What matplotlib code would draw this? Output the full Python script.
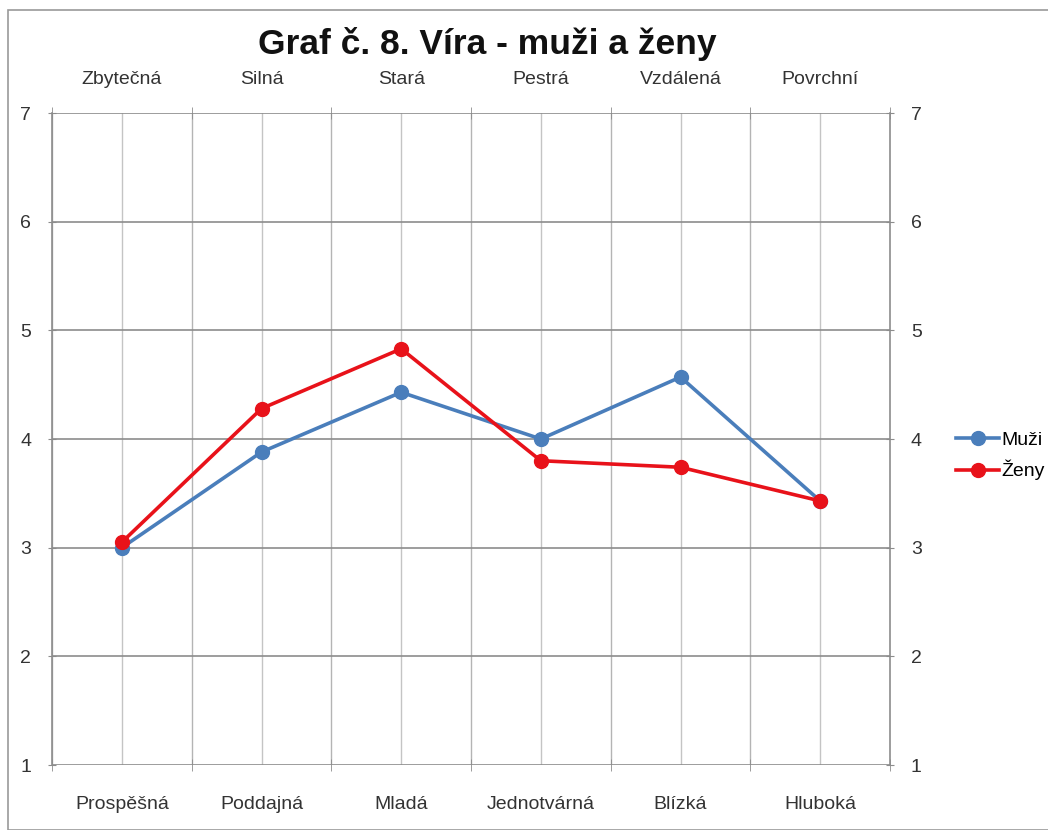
import matplotlib
matplotlib.use("Agg")
import matplotlib.pyplot as plt
from matplotlib.patches import Rectangle

plt.rcParams['font.family'] = ["Liberation Sans", 'DejaVu Sans']

bottom_labels = ["Prospěšná", "Poddajná", "Mladá", "Jednotvárná", "Blízká", "Hluboká"]
top_labels = ["Zbytečná", "Silná", "Stará", "Pestrá", "Vzdálená", "Povrchní"]
muzi = [3.00, 3.88, 4.43, 4.00, 4.57, 3.43]
zeny = [3.05, 4.28, 4.83, 3.80, 3.74, 3.43]
yticks = [1, 2, 3, 4, 5, 6, 7]
title = "Graf č. 8. Víra - muži a ženy"

fig = plt.figure(figsize=(10.48, 8.3), dpi=100)
fig.patches.append(Rectangle((8/1048, 0), 1.2, 1 - 10/830, transform=fig.transFigure,
                             fill=False, edgecolor="#9a9a9a", linewidth=1.2))

ax = fig.add_axes([52/1048, 1 - 765/830, (890-52)/1048, (765-113)/830])
n = len(bottom_labels)
x = list(range(n))
ax.set_xlim(-0.5, n - 0.5)
ax.set_ylim(1, 7)

for i in range(n):
    ax.axvline(i, color="#c4c4c4", lw=1, zorder=0)
    ax.axvline(i - 0.5, color="#b4b4b4", lw=1, zorder=0)
for yv in yticks:
    ax.axhline(yv, color="#8c8c8c", lw=1.2, zorder=0)

ax.plot(x, muzi, color="#4a7ebb", lw=2.6, marker="o", ms=10, label="Muži", zorder=3)
ax.plot(x, zeny, color="#e8121a", lw=2.6, marker="o", ms=10, label="Ženy", zorder=4)

for s in ["top", "bottom"]:
    ax.spines[s].set_visible(False)
for s in ["left", "right"]:
    ax.spines[s].set_color("#8c8c8c")
    ax.spines[s].set_linewidth(1.2)

ax.set_xticks(x)
ax.set_xticklabels(bottom_labels, fontsize=14, color="#333333")
ax.tick_params(axis="x", length=0, pad=22)
ax.set_xticks([i - 0.5 for i in range(n + 1)], minor=True)
ax.tick_params(axis="x", which="minor", length=8, color="#8c8c8c", direction="inout", bottom=True, top=True)

ax.set_yticks(yticks)
ax.set_yticklabels([str(v) for v in yticks], fontsize=14, color="#333333")
ax.tick_params(axis="y", length=6, color="#8c8c8c", direction="inout", left=True, right=True,
               labelleft=True, labelright=True, pad=12)

top = ax.secondary_xaxis("top")
top.set_xticks(x)
top.set_xticklabels(top_labels, fontsize=14, color="#333333")
top.tick_params(length=0, pad=18)
top.spines["top"].set_visible(False)

fig.text(487/1048, 1 - 44/830, title, ha="center", va="center", fontsize=25.5, fontweight="bold", color="#111111")

ax.legend(loc="center left", bbox_to_anchor=(1.07, 0.474), frameon=False, fontsize=14,
          handlelength=2.2, handletextpad=0.1, labelspacing=0.55, borderaxespad=0)

fig.savefig("out.png", dpi=100, facecolor="white")
